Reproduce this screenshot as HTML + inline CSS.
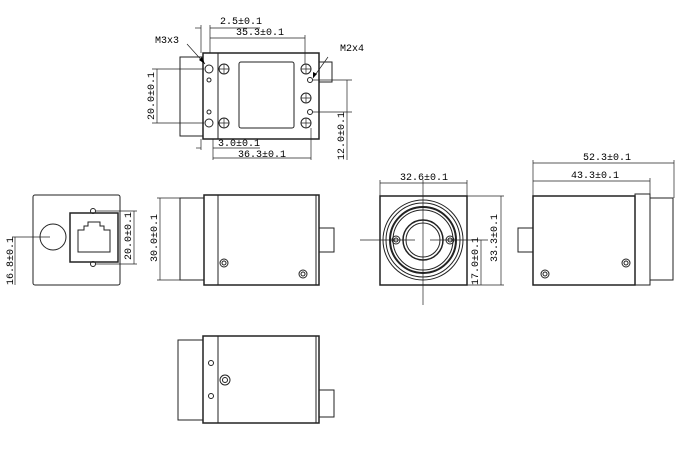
<!DOCTYPE html>
<html><head><meta charset="utf-8"><style>body{margin:0;background:#fff}svg{display:block}text{font-family:"Liberation Mono",monospace;font-size:10px;fill:#000}</style></head><body>
<svg width="680" height="450" viewBox="0 0 680 450" xmlns="http://www.w3.org/2000/svg">
<g fill="none" stroke="#222" stroke-width="1">
<!-- TOP VIEW -->
<rect x="180" y="57" width="23" height="79"/>
<rect x="203" y="53" width="116" height="86" stroke-width="1.5"/>
<line x1="218" y1="53" x2="218" y2="139"/>
<rect x="319" y="62" width="13" height="20"/>
<rect x="239" y="62" width="55" height="66" rx="2"/>
<circle cx="209" cy="69" r="4"/><circle cx="209" cy="123" r="4"/>
<circle cx="209" cy="80" r="2"/><circle cx="209" cy="112" r="2"/>
<circle cx="224" cy="69" r="5"/><circle cx="224" cy="123" r="5"/>
<circle cx="306" cy="69" r="5"/><circle cx="306" cy="98" r="5"/><circle cx="306" cy="123" r="5"/>
<circle cx="310" cy="80" r="2.5"/><circle cx="310" cy="112" r="2.5"/>
<path d="M224,64v10M219,69h10M224,118v10M219,123h10M306,64v10M301,69h10M306,93v10M301,98h10M306,118v10M301,123h10" stroke-width="0.7"/>
<g stroke-width="0.7">
<line x1="201" y1="25" x2="201" y2="53"/><line x1="210" y1="25" x2="210" y2="53"/>
<line x1="195" y1="28" x2="201" y2="28"/><line x1="210" y1="28" x2="260" y2="28"/>
<line x1="210" y1="38" x2="305" y2="38"/><line x1="305" y1="35" x2="305" y2="64"/>
<line x1="201" y1="139" x2="201" y2="150"/><line x1="213" y1="139" x2="213" y2="160"/>
<line x1="196" y1="148" x2="201" y2="148"/><line x1="213" y1="148" x2="260" y2="148"/>
<line x1="213" y1="158" x2="311" y2="158"/><line x1="311" y1="128" x2="311" y2="160"/>
<line x1="152" y1="69" x2="204" y2="69"/><line x1="152" y1="123" x2="204" y2="123"/>
<line x1="157" y1="69" x2="157" y2="123"/>
<line x1="313" y1="80" x2="352" y2="80"/><line x1="313" y1="112" x2="352" y2="112"/>
<line x1="347" y1="80" x2="347" y2="160"/>
<line x1="187" y1="44" x2="205" y2="64"/><line x1="328" y1="57" x2="313" y2="78"/>
</g>
<!-- BACK VIEW -->
<rect x="33" y="195" width="87" height="90" rx="2"/>
<rect x="70" y="213" width="48" height="49" stroke-width="1.5"/>
<circle cx="53" cy="237" r="13"/>
<circle cx="93" cy="211" r="2.5"/><circle cx="93" cy="264" r="2.5"/>
<path d="M78,252V230h6v-4h4v-4h12v4h4v4h6v22z"/>
<g stroke-width="0.7">
<line x1="12" y1="237" x2="50" y2="237"/><line x1="15" y1="237" x2="15" y2="285"/>
<line x1="96" y1="211" x2="137" y2="211"/><line x1="96" y1="264" x2="137" y2="264"/>
<line x1="134" y1="211" x2="134" y2="264"/>
</g>
<!-- SIDE VIEW -->
<rect x="180" y="198" width="24" height="82"/>
<rect x="204" y="195" width="115" height="90" stroke-width="1.5"/>
<line x1="218" y1="195" x2="218" y2="285"/>
<line x1="316" y1="195" x2="316" y2="285"/>
<rect x="319" y="228" width="15" height="24"/>
<circle cx="224" cy="263" r="4"/><circle cx="224" cy="263" r="2"/>
<circle cx="303" cy="274" r="4"/><circle cx="303" cy="274" r="2"/>
<g stroke-width="0.7"><line x1="157" y1="198" x2="180" y2="198"/><line x1="157" y1="280" x2="180" y2="280"/><line x1="160" y1="198" x2="160" y2="280"/></g>
<!-- FRONT VIEW -->
<rect x="380" y="196" width="87" height="89" stroke-width="1.5"/>
<circle cx="423" cy="240" r="40"/><circle cx="423" cy="240" r="37"/>
<circle cx="423" cy="240" r="33" stroke-width="2"/><circle cx="423" cy="240" r="30"/>
<circle cx="423" cy="240" r="20" stroke-width="1.5"/><circle cx="423" cy="240" r="17"/>
<circle cx="396" cy="240" r="4"/><circle cx="396" cy="240" r="2"/>
<circle cx="450" cy="240" r="4"/><circle cx="450" cy="240" r="2"/>
<g stroke-width="0.7">
<line x1="360" y1="240" x2="415" y2="240"/><line x1="430" y1="240" x2="488" y2="240"/>
<line x1="423" y1="180" x2="423" y2="305"/>
<line x1="380" y1="180" x2="380" y2="196"/><line x1="467" y1="180" x2="467" y2="196"/>
<line x1="380" y1="183" x2="467" y2="183"/>
<line x1="467" y1="196" x2="504" y2="196"/><line x1="467" y1="285" x2="504" y2="285"/>
<line x1="501" y1="196" x2="501" y2="285"/><line x1="481" y1="240" x2="481" y2="285"/>
</g>
<!-- RIGHT SIDE VIEW -->
<rect x="533" y="196" width="102" height="89" stroke-width="1.5"/>
<rect x="635" y="194" width="15" height="91"/>
<rect x="650" y="198" width="23" height="82"/>
<rect x="518" y="228" width="15" height="24"/>
<circle cx="545" cy="274" r="4"/><circle cx="545" cy="274" r="2"/>
<circle cx="626" cy="263" r="4"/><circle cx="626" cy="263" r="2"/>
<g stroke-width="0.7">
<line x1="533" y1="160" x2="533" y2="196"/><line x1="674" y1="160" x2="674" y2="198"/><line x1="650" y1="178" x2="650" y2="194"/>
<line x1="533" y1="163" x2="674" y2="163"/><line x1="533" y1="181" x2="650" y2="181"/>
</g>
<!-- BOTTOM VIEW -->
<rect x="178" y="340" width="25" height="80"/>
<rect x="203" y="336" width="116" height="87" stroke-width="1.5"/>
<line x1="218" y1="336" x2="218" y2="423"/><line x1="316" y1="336" x2="316" y2="423"/>
<rect x="319" y="390" width="15" height="27"/>
<circle cx="211" cy="363" r="2.5"/><circle cx="211" cy="396" r="2.5"/>
<circle cx="225" cy="380" r="5"/><circle cx="225" cy="380" r="2.5"/>
</g>
<polygon points="205,64 199,60 202,57" fill="#000"/>
<polygon points="313,78 313,72 317,74" fill="#000"/>
<text x="220" y="24">2.5±0.1</text>
<text x="236" y="35">35.3±0.1</text>
<text x="155" y="43">M3x3</text>
<text x="340" y="51">M2x4</text>
<text x="218" y="146">3.0±0.1</text>
<text x="238" y="157">36.3±0.1</text>
<text transform="translate(154,120) rotate(-90)">20.0±0.1</text>
<text transform="translate(344,160) rotate(-90)">12.0±0.1</text>
<text transform="translate(13,285) rotate(-90)">16.8±0.1</text>
<text transform="translate(131,260) rotate(-90)">20.0±0.1</text>
<text transform="translate(157,262) rotate(-90)">30.0±0.1</text>
<text x="400" y="180">32.6±0.1</text>
<text transform="translate(497,262) rotate(-90)">33.3±0.1</text>
<text transform="translate(478,285) rotate(-90)">17.0±0.1</text>
<text x="583" y="160">52.3±0.1</text>
<text x="571" y="178">43.3±0.1</text>
</svg>
</body></html>
